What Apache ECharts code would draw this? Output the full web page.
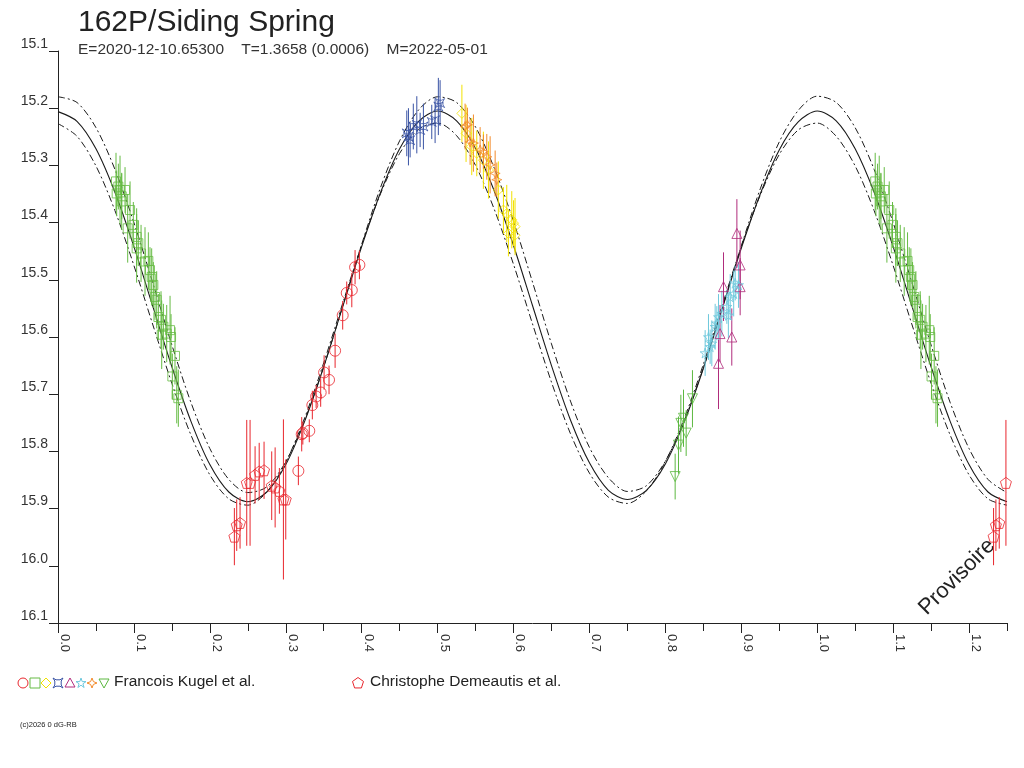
<!DOCTYPE html>
<html lang="fr">
<head>
    <meta charset="UTF-8">
    <title>162P/Siding Spring</title>
    <script src="https://cdn.jsdelivr.net/npm/echarts@6/dist/echarts.min.js"></script>
    <style>
        html, body { margin: 0; padding: 0; background: #fff; }
    </style>
</head>
<body>
    <div id="main" style="width: 1024px;height:768px;"></div>
    <script type="text/javascript">
        // tick labels
        var xTickValues = [0, 0.1, 0.2, 0.3, 0.4, 0.5, 0.6, 0.7, 0.8, 0.9, 1.0, 1.1, 1.2];
        var xMinorTicks = [0.05, 0.15, 0.25, 0.35, 0.45, 0.55, 0.65, 0.75, 0.85, 0.95, 1.05, 1.15, 1.25];

        // fitted light curve (phase, mag) and its two envelopes
        var curvePhase = [0, 0.025, 0.05, 0.075, 0.1, 0.125, 0.15, 0.175, 0.2, 0.225,
            0.25, 0.275, 0.3, 0.325, 0.35, 0.375, 0.4, 0.425, 0.45, 0.475,
            0.5, 0.525, 0.55, 0.575, 0.6, 0.625, 0.65, 0.675, 0.7, 0.725,
            0.75, 0.775, 0.8, 0.825, 0.85, 0.875, 0.9, 0.925, 0.95, 0.975,
            1.0, 1.025, 1.05, 1.075, 1.1, 1.125, 1.15, 1.175, 1.2, 1.225, 1.25];
        var fitMag = [15.206, 15.223, 15.271, 15.347, 15.442, 15.547, 15.652, 15.747, 15.823, 15.871,
            15.888, 15.871, 15.823, 15.747, 15.652, 15.547, 15.442, 15.347, 15.271, 15.223,
            15.205, 15.222, 15.270, 15.346, 15.440, 15.545, 15.650, 15.745, 15.820, 15.868,
            15.884, 15.868, 15.822, 15.748, 15.655, 15.550, 15.445, 15.350, 15.273, 15.224,
            15.205, 15.222, 15.271, 15.347, 15.442, 15.547, 15.652, 15.747, 15.823, 15.871, 15.888];
        var upperMag = [15.180, 15.190, 15.234, 15.307, 15.400, 15.506, 15.614, 15.714, 15.795, 15.849,
            15.872, 15.862, 15.818, 15.745, 15.652, 15.546, 15.438, 15.338, 15.257, 15.203,
            15.180, 15.190, 15.233, 15.306, 15.398, 15.504, 15.612, 15.712, 15.793, 15.846,
            15.870, 15.860, 15.817, 15.746, 15.654, 15.549, 15.441, 15.341, 15.259, 15.204,
            15.179, 15.190, 15.234, 15.307, 15.400, 15.506, 15.614, 15.714, 15.795, 15.849, 15.872];
        var lowerMag = [15.227, 15.249, 15.301, 15.379, 15.475, 15.579, 15.681, 15.771, 15.841, 15.883,
            15.894, 15.871, 15.819, 15.741, 15.645, 15.541, 15.439, 15.349, 15.279, 15.237,
            15.226, 15.248, 15.300, 15.378, 15.473, 15.577, 15.679, 15.769, 15.838, 15.880,
            15.891, 15.869, 15.818, 15.742, 15.648, 15.544, 15.442, 15.352, 15.281, 15.238,
            15.226, 15.249, 15.301, 15.379, 15.475, 15.579, 15.681, 15.771, 15.841, 15.883, 15.894];

        // observations: [phase, mag, error]
        var kugelCircles = [
            [0.3166, 15.834, 0.025], [0.321, 15.770, 0.03], [0.3225, 15.768, 0.02], [0.331, 15.764, 0.02],
            [0.335, 15.719, 0.025], [0.340, 15.704, 0.02], [0.346, 15.697, 0.025], [0.3505, 15.662, 0.03],
            [0.357, 15.675, 0.025], [0.365, 15.624, 0.03], [0.375, 15.562, 0.025], [0.3803, 15.523, 0.02],
            [0.387, 15.518, 0.03], [0.3913, 15.478, 0.03], [0.397, 15.474, 0.025]
        ];
        var kugelSquares = [
            [0.0764, 15.328, 0.05], [0.0773, 15.349, 0.04], [0.0795, 15.337, 0.04], [0.0817, 15.343, 0.06],
            [0.0839, 15.354, 0.04], [0.0839, 15.363, 0.05], [0.0883, 15.343, 0.04], [0.0918, 15.410, 0.06],
            [0.0949, 15.378, 0.05], [0.0992, 15.404, 0.04], [0.1036, 15.425, 0.05], [0.1036, 15.445, 0.06],
            [0.1058, 15.436, 0.04], [0.1094, 15.454, 0.05], [0.1146, 15.468, 0.06], [0.1190, 15.467, 0.05],
            [0.1212, 15.483, 0.04], [0.1234, 15.495, 0.05], [0.1256, 15.509, 0.04], [0.1278, 15.530, 0.04],
            [0.1300, 15.535, 0.05], [0.1322, 15.565, 0.04], [0.1357, 15.570, 0.05], [0.1366, 15.596, 0.06],
            [0.1388, 15.582, 0.04], [0.1432, 15.594, 0.05], [0.1476, 15.588, 0.06], [0.1489, 15.600, 0.04],
            [0.1506, 15.669, 0.04], [0.1541, 15.633, 0.05], [0.1564, 15.701, 0.05], [0.1585, 15.707, 0.05]
        ];
        var kugelDiamonds = [
            [0.532, 15.209, 0.05], [0.5375, 15.244, 0.05], [0.545, 15.267, 0.05], [0.5516, 15.279, 0.04],
            [0.5603, 15.291, 0.05], [0.567, 15.308, 0.05], [0.580, 15.343, 0.05], [0.5867, 15.378, 0.04],
            [0.5911, 15.384, 0.05], [0.5977, 15.395, 0.05], [0.600, 15.401, 0.04], [0.602, 15.407, 0.05],
            [0.5933, 15.419, 0.04], [0.602, 15.422, 0.03]
        ];
        var kugelCrosses = [
            [0.4594, 15.244, 0.04], [0.4616, 15.250, 0.05], [0.4638, 15.256, 0.03], [0.468, 15.232, 0.04],
            [0.4726, 15.229, 0.05], [0.477, 15.238, 0.03], [0.4813, 15.232, 0.04], [0.4923, 15.224, 0.03],
            [0.4967, 15.221, 0.04], [0.501, 15.197, 0.05], [0.5033, 15.191, 0.04]
        ];
        var kugelTriangles = [
            [0.8942, 15.419, 0.06], [0.8985, 15.474, 0.06], [0.8985, 15.512, 0.05], [0.8766, 15.512, 0.06],
            [0.8875, 15.600, 0.05], [0.870, 15.646, 0.08], [0.872, 15.594, 0.05]
        ];
        var kugelStars = [
            [0.8524, 15.628, 0.04], [0.8568, 15.600, 0.04], [0.859, 15.617, 0.03], [0.8612, 15.611, 0.04],
            [0.8656, 15.582, 0.04], [0.8678, 15.576, 0.03], [0.870, 15.565, 0.04], [0.8744, 15.559, 0.04],
            [0.881, 15.547, 0.03], [0.883, 15.562, 0.04], [0.8854, 15.530, 0.04], [0.890, 15.524, 0.04],
            [0.892, 15.506, 0.03], [0.8963, 15.509, 0.04]
        ];
        var kugelSparks = [
            [0.5362, 15.232, 0.04], [0.5393, 15.229, 0.03], [0.5428, 15.259, 0.04], [0.5472, 15.261, 0.05],
            [0.556, 15.273, 0.04], [0.5603, 15.276, 0.03], [0.5648, 15.285, 0.04], [0.5692, 15.299, 0.05],
            [0.5758, 15.314, 0.04], [0.578, 15.325, 0.03]
        ];
        var kugelDownTriangles = [
            [0.8129, 15.844, 0.04], [0.8173, 15.789, 0.05], [0.8204, 15.751, 0.05], [0.8239, 15.742, 0.05],
            [0.8274, 15.768, 0.04], [0.8357, 15.708, 0.05]
        ];
        var demeautisPentagons = [
            [0.2323, 15.949, 0.05], [0.2354, 15.929, 0.045], [0.2398, 15.925, 0.045], [0.2486, 15.855, 0.11],
            [0.253, 15.855, 0.11], [0.2596, 15.841, 0.05], [0.265, 15.835, 0.05], [0.2714, 15.833, 0.05],
            [0.2815, 15.860, 0.06], [0.286, 15.863, 0.07], [0.2916, 15.869, 0.04], [0.2969, 15.884, 0.14],
            [0.300, 15.884, 0.07]
        ];

        var FONT = 'Liberation Sans';
        var AXIS = '#222';

        // outline shapes on a 100x100 box
        var shapes = {
            square: [[0, 0], [100, 0], [100, 100], [0, 100]],
            diamond: [[50, 0], [100, 50], [50, 100], [0, 50]],
            cross: [[0, 0], [30, 18], [70, 18], [100, 0], [82, 30], [82, 70], [100, 100], [70, 82], [30, 82], [0, 100], [18, 70], [18, 30]],
            triangle: [[50, 0], [100, 90], [0, 90]],
            star: [[50, 0], [62, 36], [100, 36], [69, 58], [81, 95], [50, 72], [19, 95], [31, 58], [0, 36], [38, 36]],
            spark: [[50, 0], [64, 36], [100, 50], [64, 64], [50, 100], [36, 64], [0, 50], [36, 36]],
            down: [[0, 10], [100, 10], [50, 100]],
            pentagon: [[50, 0], [100, 36], [81, 95], [19, 95], [0, 36]]
        };
        function toPath(pts) {
            return 'path://M' + pts.map(function (p) { return p.join(','); }).join(' L') + ' Z';
        }

        var groups = [
            { name: 'Francois Kugel et al.', data: kugelCircles, color: '#e8262d', symbol: 'circle', size: 11 },
            { name: 'Francois Kugel et al.', data: kugelSquares, color: '#66bb44', shape: 'square', size: 9 },
            { name: 'Francois Kugel et al.', data: kugelDiamonds, color: '#f2e200', shape: 'diamond', size: 10 },
            { name: 'Francois Kugel et al.', data: kugelCrosses, color: '#3953a4', shape: 'cross', size: 9 },
            { name: 'Francois Kugel et al.', data: kugelTriangles, color: '#b02c7c', shape: 'triangle', size: 10 },
            { name: 'Francois Kugel et al.', data: kugelStars, color: '#6ec8dc', shape: 'star', size: 10 },
            { name: 'Francois Kugel et al.', data: kugelSparks, color: '#f28a2a', shape: 'spark', size: 10 },
            { name: 'Francois Kugel et al.', data: kugelDownTriangles, color: '#5cb840', shape: 'down', size: 10 },
            { name: 'Christophe Demeautis et al.', data: demeautisPentagons, color: '#e8262d', shape: 'pentagon', size: 11 }
        ];

        // phases below 0.25 are repeated one cycle later
        function wrap(data) {
            var out = data.slice();
            data.forEach(function (d) {
                if (d[0] + 1 <= 1.25) out.push([d[0] + 1, d[1], d[2]]);
            });
            return out;
        }

        function pairs(ys) {
            return curvePhase.map(function (p, i) { return [p, ys[i]]; });
        }

        var series = [
            { type: 'line', data: pairs(upperMag), smooth: 0.3, showSymbol: false, silent: true, z: 1,
              lineStyle: { color: '#1a1a1a', width: 1, type: [7, 3, 2, 3] } },
            { type: 'line', data: pairs(lowerMag), smooth: 0.3, showSymbol: false, silent: true, z: 1,
              lineStyle: { color: '#1a1a1a', width: 1, type: [7, 3, 2, 3] } },
            { type: 'line', data: pairs(fitMag), smooth: 0.3, showSymbol: false, silent: true, z: 1,
              lineStyle: { color: '#1a1a1a', width: 1.1 } }
        ];

        groups.forEach(function (g) {
            var pts = wrap(g.data);
            series.push({
                type: 'custom',
                name: g.name,
                data: pts,
                clip: true,
                z: 2,
                renderItem: function (params, api) {
                    var x = api.value(0), y = api.value(1), e = api.value(2);
                    var a = api.coord([x, y - e]);
                    var b = api.coord([x, y + e]);
                    return {
                        type: 'line',
                        shape: { x1: a[0], y1: a[1], x2: b[0], y2: b[1] },
                        style: { stroke: g.color, lineWidth: 1 }
                    };
                }
            });
            series.push({
                type: 'scatter',
                name: g.name,
                data: pts,
                symbol: g.symbol || toPath(shapes[g.shape]),
                symbolSize: g.size,
                clip: true,
                z: 3,
                itemStyle: { color: 'rgba(0,0,0,0)', borderColor: g.color, borderWidth: 1 }
            });
        });

        // legend drawn as graphic elements (several markers share one label)
        var legendMarks = [];
        function mark(shape, cx, cy, size, color) {
            if (shape === 'circle') {
                return { type: 'circle', shape: { cx: cx, cy: cy, r: size / 2 },
                         style: { fill: 'none', stroke: color, lineWidth: 1 } };
            }
            var pts = shapes[shape].map(function (p) {
                return [cx + (p[0] - 50) / 100 * size, cy + (p[1] - 50) / 100 * size];
            });
            return { type: 'polygon', shape: { points: pts }, style: { fill: 'none', stroke: color, lineWidth: 1 } };
        }
        var legendX = [23, 35, 46, 58, 70, 81, 92, 104];
        groups.slice(0, 8).forEach(function (g, i) {
            legendMarks.push(mark(g.symbol || g.shape, legendX[i], 683, 10, g.color));
        });
        legendMarks.push(mark('pentagon', 358, 683, 11, '#e8262d'));

        var myChart = echarts.init(document.getElementById('main'));
        var option = {
            animation: false,
            textStyle: { fontFamily: FONT },
            title: {
                text: '162P/Siding Spring',
                subtext: 'E=2020-12-10.65300    T=1.3658 (0.0006)    M=2022-05-01',
                left: 78,
                top: 8,
                padding: 0,
                itemGap: 4,
                textStyle: { fontFamily: FONT, fontSize: 30, fontWeight: 'normal', color: '#222' },
                subtextStyle: { fontFamily: FONT, fontSize: 15.5, color: '#333' }
            },
            grid: { left: 58, right: 17, top: 51, bottom: 145 },
            xAxis: [
                {
                    type: 'value',
                    min: 0,
                    max: 1.25,
                    splitLine: { show: false },
                    axisLine: { lineStyle: { color: AXIS, width: 1 } },
                    axisTick: { customValues: xTickValues, length: 10, lineStyle: { color: AXIS } },
                    axisLabel: {
                        customValues: xTickValues,
                        rotate: -90,
                        margin: 11,
                        align: 'left',
                        verticalAlign: 'bottom',
                        fontSize: 13,
                        color: '#333',
                        fontFamily: FONT,
                        formatter: function (v) { return v.toFixed(1); }
                    }
                },
                {
                    type: 'value',
                    min: 0,
                    max: 1.25,
                    position: 'bottom',
                    splitLine: { show: false },
                    axisLine: { show: false },
                    axisTick: { customValues: xMinorTicks, length: 8, lineStyle: { color: AXIS } },
                    axisLabel: { show: false }
                }
            ],
            yAxis: {
                type: 'value',
                inverse: true,
                min: 15.1,
                max: 16.1,
                interval: 0.1,
                splitLine: { show: false },
                axisLine: { show: true, lineStyle: { color: AXIS, width: 1 } },
                axisTick: { show: true, length: 9, lineStyle: { color: AXIS } },
                axisLabel: {
                    margin: 10,
                    verticalAlign: 'bottom',
                    fontSize: 14,
                    color: '#333',
                    fontFamily: FONT,
                    formatter: function (v) { return v.toFixed(1); }
                }
            },
            graphic: legendMarks.concat([
                { type: 'text', left: 114, top: 674,
                  style: { text: 'Francois Kugel et al.', font: '15.5px "Liberation Sans"', fill: '#222' } },
                { type: 'text', left: 370, top: 674,
                  style: { text: 'Christophe Demeautis et al.', font: '15.5px "Liberation Sans"', fill: '#222' } },
                { type: 'text', left: 20, top: 721,
                  style: { text: '(c)2026 0 dG-RB', font: '7.5px "Liberation Sans"', fill: '#222' } },
                { type: 'text', x: 957, y: 577, rotation: Math.PI / 4,
                  style: { text: 'Provisoire', font: '22px "Liberation Sans"', fill: '#222',
                           align: 'center', verticalAlign: 'middle' } }
            ]),
            series: series
        };
        myChart.setOption(option);
    </script>
</body>
</html>
